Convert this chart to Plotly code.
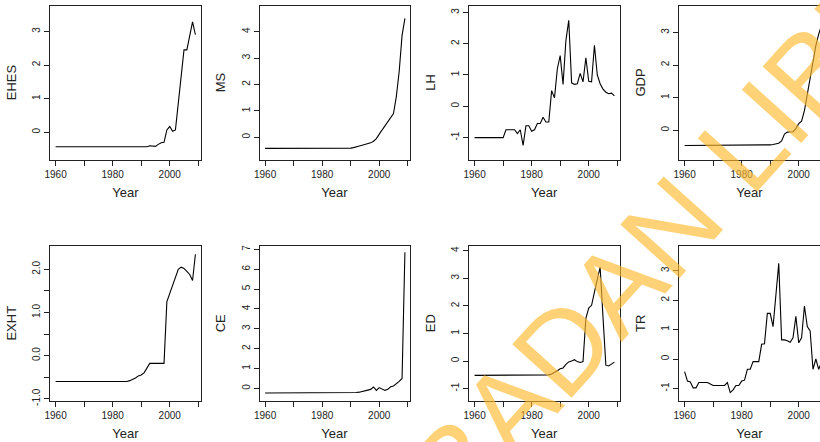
import plotly.graph_objects as go

years = list(range(1960, 2010))

ehes = [-0.43]*30 + [-0.42, -0.42, -0.43, -0.40, -0.42, -0.42, -0.36, -0.31, -0.30, 0.07,
                     0.17, 0.03, 0.07, 0.85, 1.65, 2.45, 2.45, 2.85, 3.28, 2.90]
ms = [-0.42]*30 + [-0.41, -0.39, -0.37, -0.33, -0.30, -0.27, -0.24, -0.21, -0.15, -0.05,
                   0.12, 0.28, 0.45, 0.58, 0.72, 0.90, 1.55, 2.50, 3.85, 4.50]
lh = [-1.0]*11 + [-0.75, -0.75, -0.75, -0.75, -0.87, -0.75, -1.25, -0.62, -0.62, -0.80,
                  -0.75, -0.55, -0.55, -0.35, -0.50, -0.50, 0.50, 0.27, 1.20, 1.62,
                  0.70, 2.10, 2.75, 0.75, 0.70, 0.72, 1.05, 0.78, 1.55, 0.80,
                  0.78, 1.95, 1.00, 0.72, 0.55, 0.45, 0.40, 0.42, 0.33]
gdp = [-0.47]*25 + [-0.47, -0.46, -0.46, -0.46, -0.45, -0.45, -0.44, -0.43, -0.40, -0.33,
                    -0.12, -0.06, -0.06, -0.05, 0.05, 0.20, 0.28, 0.60, 1.10, 1.60,
                    2.10, 2.60, 2.95, 3.25, 3.50]
exrt = [-0.60]*26 + [-0.58, -0.55, -0.52, -0.47, -0.45, -0.40, -0.28, -0.18, -0.18, -0.18,
                     -0.18, -0.18, -0.18, 1.25, 1.45, 1.65, 1.85, 2.00, 2.05, 2.02,
                     1.95, 1.88, 1.74, 2.35]
ce = [-0.23]*30 + [-0.23, -0.22, -0.21, -0.19, -0.15, -0.10, -0.07, -0.05, 0.07, -0.10,
                   0.04, -0.05, -0.10, -0.05, 0.08, 0.12, 0.22, 0.35, 0.50, 6.85]
ed = [-0.52]*25 + [-0.52, -0.50, -0.47, -0.42, -0.35, -0.28, -0.25, -0.12, -0.03, 0.00,
                   0.05, -0.02, -0.05, -0.02, 1.55, 1.92, 2.02, 2.50, 3.00, 3.40,
                   1.60, -0.15, -0.18, -0.12, -0.04]
tr = [-0.43, -0.75, -0.78, -0.98, -0.98, -0.80, -0.80, -0.80, -0.80, -0.85,
      -0.90, -0.90, -0.90, -0.90, -0.90, -0.80, -1.14, -1.05, -0.90, -0.90,
      -0.75, -0.72, -0.35, -0.35, -0.09, -0.09, -0.09, 0.50, 0.52, 1.55,
      1.55, 1.10, 2.20, 3.25, 0.65, 0.65, 0.62, 0.57, 0.72, 1.45,
      0.55, 0.72, 1.80, 1.10, 0.95, -0.35, 0.00, -0.35, -0.10, 0.05]

labels = ["EHES", "MS", "LH", "GDP", "EXHT", "CE", "ED", "TR"]
series = [ehes, ms, lh, gdp, exrt, ce, ed, tr]
ytickvals = [[0, 1, 2, 3], [0, 1, 2, 3, 4], [-1, 0, 1, 2, 3], [0, 1, 2, 3],
             [-1.0, -0.5, 0.0, 0.5, 1.0, 1.5, 2.0], [0, 1, 2, 3, 4, 5, 6, 7],
             [-1, 0, 1, 2, 3, 4], [-1, 0, 1, 2, 3]]
yticktext = [["0", "1", "2", "3"], ["0", "1", "2", "3", "4"], ["-1", "0", "1", "2", "3"],
             ["0", "1", "2", "3"], ["-1.0", "", "0.0", "", "1.0", "", "2.0"],
             ["0", "1", "2", "3", "4", "5", "6", "7"], ["-1", "0", "1", "2", "3", "4"],
             ["-1", "0", "1", "2", "3"]]
yranges = [[-0.81, 3.77], [-0.84, 4.99], [-1.70, 3.22], [-0.90, 3.83],
           [-1.04, 2.54], [-0.61, 7.17], [-1.43, 4.17], [-1.41, 3.84]]
xtickvals = [1960, 1970, 1980, 1990, 2000, 2010]
xticktext = ["1960", "", "1980", "", "2000", ""]
watermark = "IBADAN LIBRARY"

W, H = 820, 442
col_px = [(50, 201), (259.5, 409.5), (469, 619.5), (679, 820)]
row_px = [(5.5, 159.5), (246, 400.5)]
PX_PER_YEAR = 151 / (2010.96 - 1958.04)

FONT = "Liberation Sans, Arial, Helvetica, sans-serif"
INK = "#222222"

fig = go.Figure()
layout = {}
for i in range(8):
    r, c = divmod(i, 4)
    n = i + 1
    xa = "x" if n == 1 else f"x{n}"
    ya = "y" if n == 1 else f"y{n}"
    fig.add_trace(go.Scatter(x=years, y=series[i], mode="lines",
                             line=dict(color="black", width=1.1),
                             xaxis=xa, yaxis=ya, showlegend=False, hoverinfo="skip"))
    x0, x1 = col_px[c]
    t, b = row_px[r]
    xr = [1958.04, 1958.04 + (x1 - x0) / PX_PER_YEAR]
    layout[f"xaxis{n}"] = dict(
        domain=[x0 / W, x1 / W], anchor=ya, range=xr, automargin=False,
        tickvals=xtickvals, ticktext=xticktext,
        showline=True, linecolor=INK, linewidth=1, mirror=True,
        ticks="outside", ticklen=5, tickwidth=1, tickcolor=INK,
        showgrid=False, zeroline=False,
        tickfont=dict(family=FONT, size=10, color=INK),
        title=dict(text="Year", font=dict(family=FONT, size=13, color=INK), standoff=9),
    )
    layout[f"yaxis{n}"] = dict(
        domain=[1 - b / H, 1 - t / H], anchor=xa, range=yranges[i], automargin=False,
        tickvals=ytickvals[i], ticktext=yticktext[i], tickangle=-90,
        showline=True, linecolor=INK, linewidth=1, mirror=(c < 3),
        ticks="outside", ticklen=5, tickwidth=1, tickcolor=INK,
        showgrid=False, zeroline=False,
        tickfont=dict(family=FONT, size=10, color=INK),
        title=dict(text=labels[i], font=dict(family=FONT, size=13, color=INK), standoff=11),
    )

fig.update_layout(
    width=W, height=H, margin=dict(l=0, r=0, t=0, b=0, autoexpand=False),
    paper_bgcolor="white", plot_bgcolor="rgba(0,0,0,0)",
    **layout,
)
fig.add_annotation(
    text=watermark, xref="paper", yref="paper", x=731 / W, y=1 - 161 / H,
    xanchor="center", yanchor="middle", showarrow=False, textangle=-48,
    font=dict(family=FONT, size=116, color="rgba(255,186,47,0.65)"),
)
fig.write_html("out.html", config={"displayModeBar": False},
               post_script="document.body.style.margin='0px';")
